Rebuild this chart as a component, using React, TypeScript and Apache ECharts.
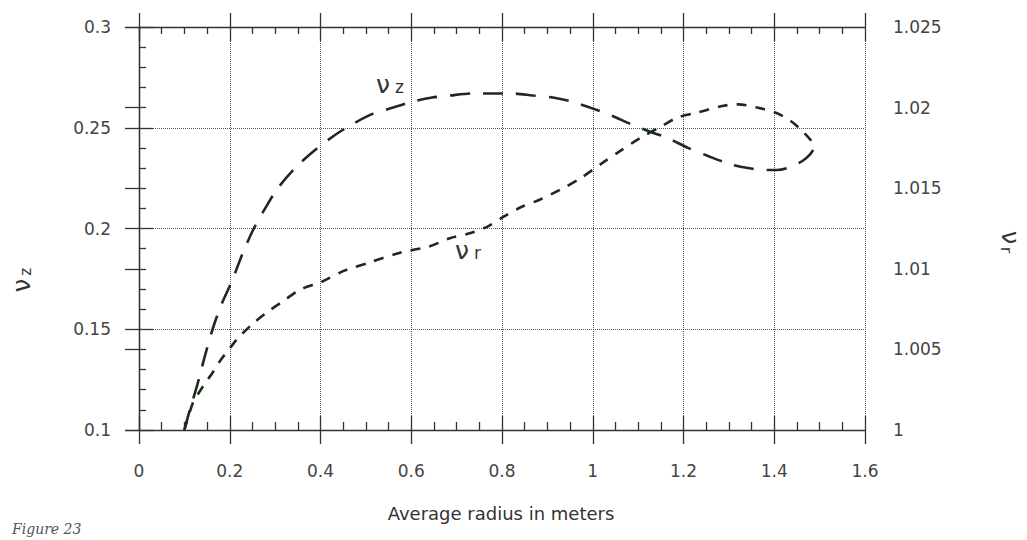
import React, { useEffect, useRef } from "react";
import * as echarts from "echarts";

// nu_z (left axis) — long dashes
const nuZX = [0.1, 0.112, 0.128, 0.148, 0.165, 0.183, 0.205, 0.229, 0.253, 0.278, 0.306, 0.344, 0.388, 0.436, 0.472, 0.516, 0.56, 0.604, 0.646, 0.685, 0.734, 0.78, 0.824, 0.868, 0.912, 0.954, 0.994, 1.042, 1.082, 1.126, 1.164, 1.21, 1.254, 1.302, 1.342, 1.38, 1.406, 1.435, 1.462, 1.478, 1.49];
const nuZY = [0.1, 0.11, 0.122, 0.139, 0.152, 0.163, 0.174, 0.188, 0.2, 0.21, 0.22, 0.23, 0.239, 0.247, 0.252, 0.257, 0.26, 0.263, 0.265, 0.266, 0.267, 0.267, 0.267, 0.266, 0.265, 0.263, 0.26, 0.256, 0.252, 0.248, 0.245, 0.24, 0.236, 0.232, 0.23, 0.229, 0.229, 0.2305, 0.2335, 0.2365, 0.2405];

// nu_r (right axis) — short dashes
const nuRX = [0.1, 0.119, 0.134, 0.148, 0.161, 0.179, 0.201, 0.218, 0.251, 0.282, 0.313, 0.355, 0.403, 0.454, 0.509, 0.575, 0.641, 0.685, 0.729, 0.767, 0.802, 0.84, 0.884, 0.928, 0.972, 1.023, 1.06, 1.104, 1.155, 1.188, 1.232, 1.285, 1.32, 1.362, 1.402, 1.435, 1.46, 1.48, 1.49];
const nuRY = [1.0, 1.0017, 1.0024, 1.003, 1.0035, 1.0043, 1.0051, 1.0057, 1.0066, 1.0073, 1.0079, 1.0087, 1.0092, 1.0099, 1.0104, 1.011, 1.0114, 1.0119, 1.0122, 1.0126, 1.0132, 1.0138, 1.0143, 1.0149, 1.0156, 1.0166, 1.0173, 1.0181, 1.0189, 1.0194, 1.0197, 1.0201, 1.0202, 1.02, 1.0197, 1.0192, 1.0186, 1.018, 1.0176];

const xMin = 0, xMax = 1.6, xStep = 0.2;
const yLMin = 0.1, yLMax = 0.3, yLStep = 0.05;
const yRMin = 1.0, yRMax = 1.025, yRStep = 0.005;

const xTitle = "Average radius in meters";
const figCaption = "Figure 23";

const AX = "#333";
const CURVE = "#1c2b1c";
const FONT = "DejaVu Sans";

export default function App() {
  const ref = useRef<HTMLDivElement>(null);
  useEffect(() => {
    if (!ref.current) return;
    const chart = echarts.init(ref.current, null, { renderer: "svg" });
    const lineSt = { color: AX, width: 1.3 };
    const labelSt = { color: "#444", fontFamily: FONT, fontSize: 17 };
    const grid = { type: "dotted", color: "#555", width: 1 };
    const xBase = { type: "value", min: xMin, max: xMax, interval: xStep, gridIndex: 0 };
    const yLBase = { type: "value", min: yLMin, max: yLMax, interval: yLStep, gridIndex: 0 };
    const option: any = {
      animation: false,
      backgroundColor: "#fff",
      grid: { left: 139, right: 162, top: 27, bottom: 110, containLabel: false },
      xAxis: [
        {
          ...xBase, position: "bottom",
          axisLine: { show: true, lineStyle: lineSt },
          axisTick: { show: true, inside: false, length: 14, lineStyle: lineSt },
          axisLabel: { ...labelSt, margin: 32 },
          splitLine: { show: true, lineStyle: grid },
        },
        {
          ...xBase, position: "bottom",
          axisLine: { show: false },
          axisTick: { show: true, inside: true, length: 14, lineStyle: lineSt },
          minorTick: { show: true, splitNumber: 4, length: 8, lineStyle: lineSt },
          axisLabel: { show: false },
          splitLine: { show: false },
        },
        {
          ...xBase, position: "top",
          axisLine: { show: true, lineStyle: lineSt },
          axisTick: { show: true, inside: false, length: 14, lineStyle: lineSt },
          axisLabel: { show: false },
          splitLine: { show: false },
        },
        {
          ...xBase, position: "top",
          axisLine: { show: false },
          axisTick: { show: true, inside: true, length: 14, lineStyle: lineSt },
          minorTick: { show: true, splitNumber: 4, length: 7, lineStyle: lineSt },
          axisLabel: { show: false },
          splitLine: { show: false },
        },
      ],
      yAxis: [
        {
          ...yLBase, position: "left",
          axisLine: { show: true, lineStyle: lineSt },
          axisTick: { show: true, inside: false, length: 14, lineStyle: lineSt },
          axisLabel: { ...labelSt, margin: 28, padding: [6, 0, 0, 0] },
          splitLine: { show: true, lineStyle: grid },
        },
        {
          ...yLBase, position: "left",
          axisLine: { show: false },
          axisTick: { show: true, inside: true, length: 14, lineStyle: lineSt },
          minorTick: { show: true, splitNumber: 5, length: 7, lineStyle: lineSt },
          axisLabel: { show: false },
          splitLine: { show: false },
        },
        {
          type: "value", gridIndex: 0, position: "right",
          min: yRMin, max: yRMax, interval: yRStep,
          axisLine: { show: true, lineStyle: lineSt },
          axisTick: { show: true, inside: true, length: 14, lineStyle: lineSt },
          axisLabel: { ...labelSt, margin: 28, padding: [8, 0, 0, 0] },
          splitLine: { show: false },
        },
      ],
      series: [
        {
          name: "nu_z", type: "line", xAxisIndex: 0, yAxisIndex: 0,
          data: nuZX.map((x, i) => [x, nuZY[i]]),
          showSymbol: false, smooth: 0.3,
          lineStyle: { color: CURVE, width: 2.6, type: [20, 13], cap: "butt" },
        },
        {
          name: "nu_r", type: "line", xAxisIndex: 0, yAxisIndex: 2,
          data: nuRX.map((x, i) => [x, nuRY[i]]),
          showSymbol: false, smooth: 0.3,
          lineStyle: { color: CURVE, width: 2.6, type: [10, 9], cap: "butt" },
        },
      ],
      graphic: [
        {
          type: "text", x: 22, y: 280, rotation: Math.PI / 2,
          style: {
            text: "{n|ν}{s|z}", align: "center", verticalAlign: "middle",
            rich: {
              n: { fontFamily: FONT, fontSize: 24, fill: "#333" },
              s: { fontFamily: FONT, fontSize: 15, fill: "#333", padding: [8, 0, 0, 3] },
            },
          },
        },
        {
          type: "text", x: 1010, y: 242, rotation: -Math.PI / 2,
          style: {
            text: "{n|ν}{s|r}", align: "center", verticalAlign: "middle",
            rich: {
              n: { fontFamily: FONT, fontSize: 24, fill: "#333" },
              s: { fontFamily: FONT, fontSize: 15, fill: "#333", padding: [8, 0, 0, 3] },
            },
          },
        },
        {
          type: "text", x: 390, y: 84,
          style: {
            text: "{n|ν}{s|z}", align: "center", verticalAlign: "middle",
            rich: {
              n: { fontFamily: FONT, fontSize: 25, fill: "#333" },
              s: { fontFamily: FONT, fontSize: 17, fill: "#333", padding: [6, 0, 0, 5] },
            },
          },
        },
        {
          type: "text", x: 468, y: 250,
          style: {
            text: "{n|ν}{s|r}", align: "center", verticalAlign: "middle",
            rich: {
              n: { fontFamily: FONT, fontSize: 25, fill: "#333" },
              s: { fontFamily: FONT, fontSize: 17, fill: "#333", padding: [6, 0, 0, 5] },
            },
          },
        },
        {
          type: "text", x: 501, y: 513,
          style: {
            text: xTitle, align: "center", verticalAlign: "middle",
            fontFamily: FONT, fontSize: 18, fill: "#333",
          },
        },
        {
          type: "text", x: 12, y: 522,
          style: {
            text: figCaption, align: "left", verticalAlign: "top",
            fontFamily: "DejaVu Serif", fontStyle: "italic", fontSize: 14, fill: "#555",
          },
        },
      ],
    };
    chart.setOption(option);
    return () => chart.dispose();
  }, []);
  return (
    <div
      ref={ref}
      style={{ position: "fixed", left: 0, top: 0, width: 1027, height: 540, background: "#fff" }}
    />
  );
}
